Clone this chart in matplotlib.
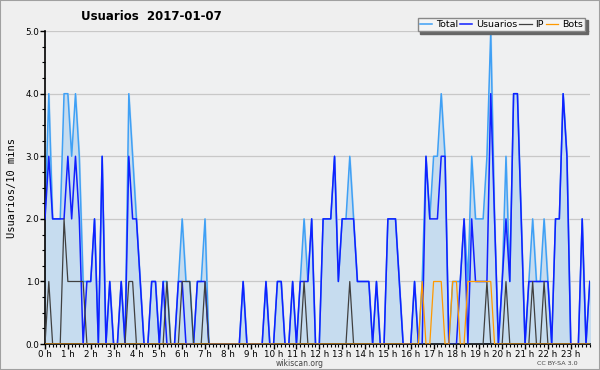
import numpy as np
import matplotlib
matplotlib.use('Agg')
import matplotlib.pyplot as plt
from matplotlib.patches import Rectangle

# Valores cada 10 minutos (144 puntos)
usuarios = [2, 3, 2, 2, 2, 2, 3, 2, 3, 2, 0, 1, 1, 2, 0, 3, 0, 1, 0, 0,
            1, 0, 3, 2, 2, 1, 0, 0, 1, 1, 0, 1, 0, 0, 0, 1, 1, 0, 0, 0,
            1, 1, 1, 0, 0, 0, 0, 0, 0, 0, 0, 0, 1, 0, 0, 0, 0, 0, 1, 0,
            0, 1, 1, 0, 0, 1, 0, 1, 1, 1, 2, 0, 0, 2, 2, 2, 3, 1, 2, 2,
            2, 2, 1, 1, 1, 1, 0, 1, 0, 0, 2, 2, 2, 1, 0, 0, 0, 1, 0, 0,
            3, 2, 2, 2, 3, 3, 0, 0, 0, 1, 2, 0, 2, 1, 1, 1, 1, 4, 2, 0,
            1, 2, 1, 4, 4, 2, 0, 1, 1, 1, 1, 1, 1, 0, 2, 2, 4, 3, 0, 0,
            0, 2, 0, 1]
ip = [0, 1, 0, 0, 0, 2, 1, 1, 1, 1, 1, 0, 0, 0, 0, 0, 0, 0, 0, 0,
      0, 0, 1, 1, 0, 0, 0, 0, 0, 0, 0, 0, 1, 0, 0, 0, 1, 1, 1, 0,
      0, 0, 1, 0, 0, 0, 0, 0, 0, 0, 0, 0, 0, 0, 0, 0, 0, 0, 0, 0,
      0, 0, 0, 0, 0, 0, 0, 0, 1, 0, 0, 0, 0, 0, 0, 0, 0, 0, 0, 0,
      1, 0, 0, 0, 0, 0, 0, 0, 0, 0, 0, 0, 0, 0, 0, 0, 0, 0, 0, 0,
      0, 0, 0, 0, 0, 0, 0, 0, 0, 0, 0, 0, 0, 0, 0, 0, 1, 0, 0, 0,
      0, 1, 0, 0, 0, 0, 0, 0, 1, 0, 0, 1, 0, 0, 0, 0, 0, 0, 0, 0,
      0, 0, 0, 0]
bots = [0] * 99 + [1, 0, 0, 1, 1, 1, 0, 0, 1, 1, 0, 0, 1, 1, 1, 1, 1, 1, 1, 0] + [0] * 25
total = [2, 4, 2, 2, 2, 4, 4, 3, 4, 3, 1, 1, 1, 2, 0, 3, 0, 1, 0, 0,
         1, 0, 4, 3, 2, 1, 0, 0, 1, 1, 0, 1, 1, 0, 0, 1, 2, 1, 1, 0,
         1, 1, 2, 0, 0, 0, 0, 0, 0, 0, 0, 0, 1, 0, 0, 0, 0, 0, 1, 0,
         0, 1, 1, 0, 0, 1, 0, 1, 2, 1, 2, 0, 0, 2, 2, 2, 3, 1, 2, 2,
         3, 2, 1, 1, 1, 1, 0, 1, 0, 0, 2, 2, 2, 1, 0, 0, 0, 1, 0, 1,
         3, 2, 3, 3, 4, 3, 0, 1, 1, 1, 2, 1, 3, 2, 2, 2, 3, 5, 2, 0,
         1, 3, 1, 4, 4, 2, 0, 1, 2, 1, 1, 2, 1, 0, 2, 2, 4, 3, 0, 0,
         0, 2, 0, 1]
horas = [f'{h} h' for h in range(24)]

x = np.arange(len(total))

fig = plt.figure(figsize=(6, 3.7), dpi=100, facecolor='#efefef')
ax = fig.add_axes([0.075, 0.07, 0.908, 0.846])
ax.set_facecolor('#eff0f1')

# Relleno y lineas
ax.fill_between(x, total, color='#c6dcef', zorder=1)
ax.plot(x, total, color='#3fa0f5', lw=1.1, label='Total', zorder=2)
ax.plot(x, usuarios, color='#1020ff', lw=1.1, label='Usuarios', zorder=3)
ax.plot(x, ip, color='#404040', lw=0.9, label='IP', zorder=4)
ax.plot(x, bots, color='#ff9900', lw=0.9, label='Bots', zorder=4)

ax.set_xlim(0, 143)
ax.set_ylim(0, 5)

ax.set_yticks(np.arange(0, 5.01, 1.0))
ax.set_yticklabels([f'{v:.1f}' for v in np.arange(0, 5.01, 1.0)], fontsize=6.3)
ax.set_yticks(np.arange(0, 5.01, 0.25), minor=True)
ax.set_xticks(np.arange(0, 144, 6))
ax.set_xticklabels(horas, fontsize=6.3)
ax.set_xticks(np.arange(0, 144, 1), minor=True)
ax.tick_params(axis='both', which='major', length=3.5, width=1, color='black', pad=0.5)
ax.tick_params(axis='both', which='minor', length=2.5, width=0.8, color='black')

ax.grid(axis='y', which='major', color='#c8c8c8', lw=0.9, zorder=0)
ax.set_axisbelow(True)

for s in ['top', 'right']:
    ax.spines[s].set_visible(False)
ax.spines['left'].set_linewidth(1.2)
ax.spines['bottom'].set_linewidth(1.2)

ax.set_ylabel('Usuarios/10 mins', fontsize=7.5, family='DejaVu Sans Mono', labelpad=6)

fig.text(0.252, 0.955, 'Usuarios  2017-01-07', fontsize=8.5, fontweight='bold',
         ha='center', va='center')
fig.text(0.5, 0.017, 'wikiscan.org', fontsize=5.5, color='#444444', ha='center', va='center')
fig.text(0.962, 0.017, 'CC BY-SA 3.0', fontsize=4.6, color='#444444', ha='right', va='center')

fig.legend(loc='upper right', bbox_to_anchor=(0.983, 0.965), ncol=4, fontsize=6.8,
           handlelength=1.3, handletextpad=0.4, columnspacing=0.2, borderpad=0.25,
           fancybox=False, framealpha=1, facecolor='#f4f4f4', edgecolor='#888888',
           shadow={'color': '#666666', 'alpha': 1})

# Borde de la imagen
fig.patches.append(Rectangle((0, 0), 1, 1, transform=fig.transFigure, fill=False,
                             edgecolor='#a0a0a0', lw=1.5))

plt.savefig('out.png', dpi=100, facecolor=fig.get_facecolor())
